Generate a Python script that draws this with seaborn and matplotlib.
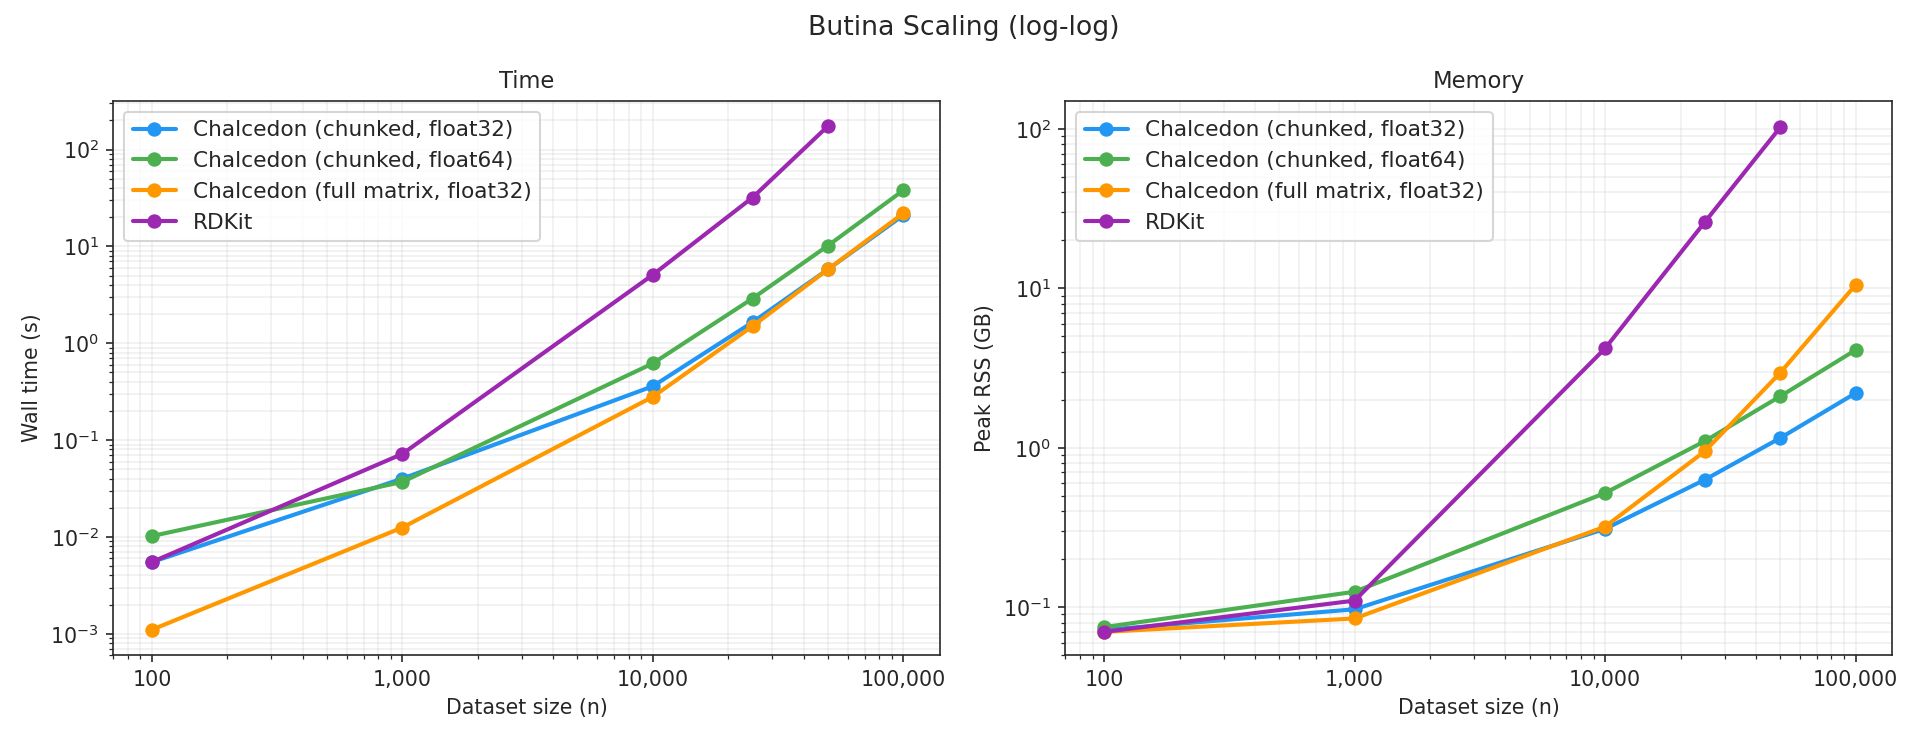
import matplotlib
matplotlib.use("Agg")
import matplotlib.pyplot as plt
import matplotlib.ticker as mticker
import seaborn as sns
import pandas as pd

sizes = [100, 1000, 10000, 25000, 50000, 100000]
series = ["Chalcedon (chunked, float32)", "Chalcedon (chunked, float64)",
          "Chalcedon (full matrix, float32)", "RDKit"]
colors = ["#2196F3", "#4CAF50", "#FF9800", "#9C27B0"]

time_f32 = [0.0055, 0.040, 0.36, 1.65, 5.8, 21]
time_f64 = [0.0102, 0.037, 0.62, 2.9, 10.2, 38]
time_full = [0.0011, 0.0125, 0.28, 1.5, 5.8, 22]
time_rdkit = [0.0055, 0.072, 5.1, 32, 175]

mem_f32 = [0.072, 0.097, 0.31, 0.63, 1.15, 2.2]
mem_f64 = [0.075, 0.125, 0.52, 1.1, 2.1, 4.1]
mem_full = [0.070, 0.085, 0.32, 0.95, 2.95, 10.5]
mem_rdkit = [0.070, 0.11, 4.2, 26, 102]

def frame(vals_list):
    rows = []
    for name, vals in zip(series, vals_list):
        for n, v in zip(sizes, vals):
            rows.append({"n": n, "v": v, "method": name})
    return pd.DataFrame(rows)

sns.set_style("ticks")
fig, axes = plt.subplots(1, 2, figsize=(13.02, 5), dpi=148)
panels = [
    (axes[0], frame([time_f32, time_f64, time_full, time_rdkit]), "Time", "Wall time (s)"),
    (axes[1], frame([mem_f32, mem_f64, mem_full, mem_rdkit]), "Memory", "Peak RSS (GB)"),
]
for ax, df, title, ylabel in panels:
    sns.lineplot(data=df, x="n", y="v", hue="method", palette=colors, marker="o",
                 markersize=7, markeredgewidth=0, linewidth=2, ax=ax)
    ax.set_xscale("log")
    ax.set_yscale("log")
    ax.xaxis.set_major_formatter(mticker.FuncFormatter(lambda x, p: f"{int(x):,}"))
    ax.grid(True, which="both", alpha=0.3)
    ax.set_title(title, fontsize=11)
    ax.set_xlabel("Dataset size (n)")
    ax.set_ylabel(ylabel)
    ax.legend(loc="upper left", fontsize=10.5)
    ax.set_xlim(70, 140000)
axes[0].set_ylim(6e-4, 320)
axes[1].set_ylim(0.05, 150)
fig.suptitle("Butina Scaling (log-log)", fontsize=13)
fig.tight_layout()
fig.savefig("out.png", dpi=148)
